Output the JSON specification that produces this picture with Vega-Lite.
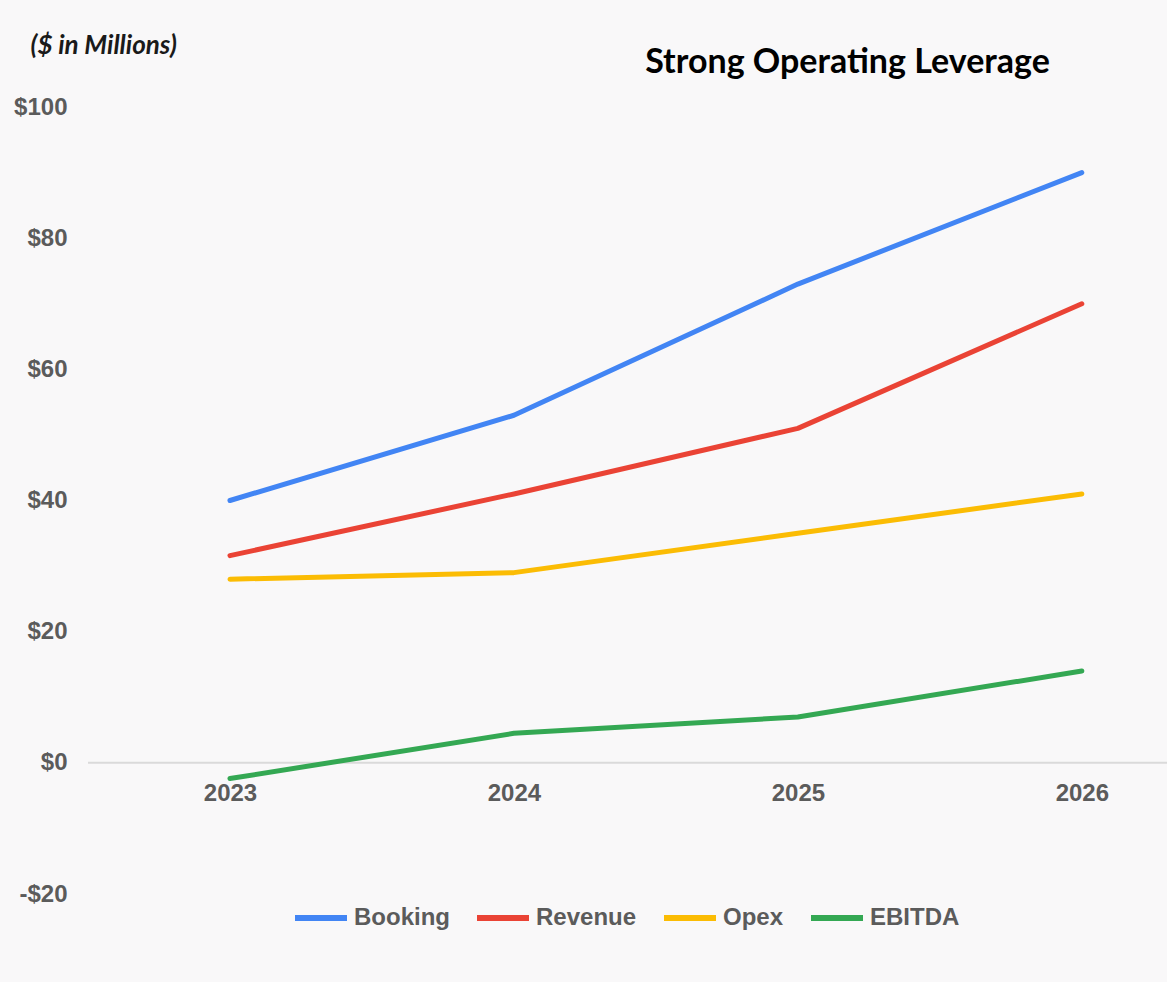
{
  "$schema": "https://vega.github.io/schema/vega-lite/v6.json",
  "width": 1079,
  "height": 787,
  "autosize": "none",
  "padding": {"left": 88, "top": 107, "right": 0, "bottom": 88},
  "background": "#f9f8f9",
  "title": {
    "text": "Strong Operating Leverage",
    "font": "Lato",
    "fontSize": 34,
    "fontWeight": "bold",
    "color": "#000000",
    "anchor": "middle",
    "frame": "group",
    "dx": 220,
    "dy": 82,
    "baseline": "top",
    "offset": 34
  },
  "config": {
    "view": {"stroke": null},
    "font": "Liberation Sans"
  },
  "layer": [
    {
      "data": {"values": [{"zero": 0}]},
      "mark": {"type": "rule", "color": "#dadada", "strokeWidth": 2},
      "encoding": {"y": {"field": "zero", "type": "quantitative"}}
    },
    {
      "data": {
        "values": [
          {"year": 2023, "series": "Booking", "value": 40},
          {"year": 2024, "series": "Booking", "value": 53},
          {"year": 2025, "series": "Booking", "value": 73},
          {"year": 2026, "series": "Booking", "value": 90},
          {"year": 2023, "series": "Revenue", "value": 31.6},
          {"year": 2024, "series": "Revenue", "value": 41},
          {"year": 2025, "series": "Revenue", "value": 51},
          {"year": 2026, "series": "Revenue", "value": 70},
          {"year": 2023, "series": "Opex", "value": 28},
          {"year": 2024, "series": "Opex", "value": 29},
          {"year": 2025, "series": "Opex", "value": 35},
          {"year": 2026, "series": "Opex", "value": 41},
          {"year": 2023, "series": "EBITDA", "value": -2.4},
          {"year": 2024, "series": "EBITDA", "value": 4.5},
          {"year": 2025, "series": "EBITDA", "value": 7},
          {"year": 2026, "series": "EBITDA", "value": 14}
        ]
      },
      "mark": {"type": "line", "strokeWidth": 5, "strokeCap": "round", "strokeJoin": "round"},
      "encoding": {
        "x": {
          "field": "year",
          "type": "quantitative",
          "scale": {"domain": [2022.5, 2026.3], "nice": false, "zero": false},
          "axis": {
            "title": null,
            "values": [2023, 2024, 2025, 2026],
            "format": "d",
            "offset": -131,
            "domain": false,
            "ticks": false,
            "grid": false,
            "labelFont": "Liberation Sans",
            "labelFontSize": 24,
            "labelFontWeight": "bold",
            "labelColor": "#5b5b5b",
            "labelBaseline": "top",
            "labelPadding": 18,
            "labelFlush": false,
            "labelOverlap": false
          }
        },
        "y": {
          "field": "value",
          "type": "quantitative",
          "scale": {"domain": [-20, 100], "nice": false, "zero": false},
          "axis": {
            "title": "($ in Millions)",
            "titleAngle": 0,
            "titleAlign": "left",
            "titleBaseline": "alphabetic",
            "titleX": -58,
            "titleY": -54,
            "titleFont": "Lato",
            "titleFontSize": 26,
            "titleFontStyle": "italic",
            "titleFontWeight": "bold",
            "titleColor": "#1a1a1a",
            "values": [-20, 0, 20, 40, 60, 80, 100],
            "labelExpr": "datum.value < 0 ? '-$' + abs(datum.value) : '$' + datum.value",
            "domain": false,
            "ticks": false,
            "grid": false,
            "labelFont": "Liberation Sans",
            "labelFontSize": 24,
            "labelFontWeight": "bold",
            "labelColor": "#5b5b5b",
            "labelPadding": 21
          }
        },
        "color": {
          "field": "series",
          "type": "nominal",
          "sort": ["Booking", "Revenue", "Opex", "EBITDA"],
          "scale": {
            "domain": ["Booking", "Revenue", "Opex", "EBITDA"],
            "range": ["#4285F4", "#EA4335", "#FBBC04", "#34A853"]
          },
          "legend": {
            "title": null,
            "orient": "none",
            "direction": "horizontal",
            "legendX": 204,
            "legendY": 782,
            "symbolType": "stroke",
            "symbolSize": 2704,
            "symbolStrokeWidth": 6,
            "labelFont": "Liberation Sans",
            "labelFontSize": 24,
            "labelFontWeight": "bold",
            "labelColor": "#5b5b5b",
            "labelOffset": 4,
            "columnPadding": 15
          }
        }
      }
    }
  ]
}
